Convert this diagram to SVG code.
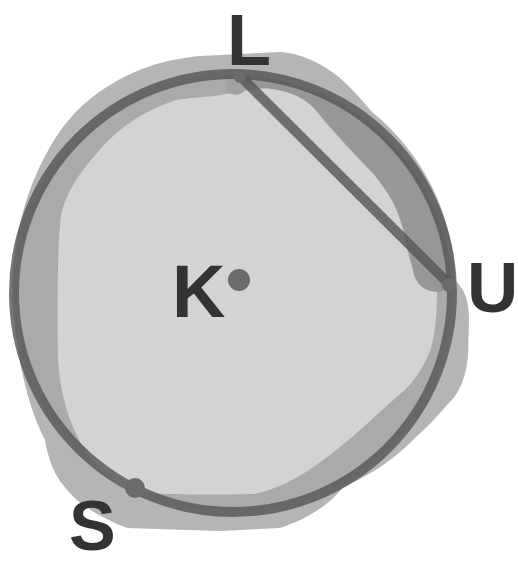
<svg xmlns="http://www.w3.org/2000/svg" width="518" height="565" viewBox="0 0 518 565">
  <style>
    .lbl { font-family: "Liberation Sans", Arial, sans-serif; font-weight: bold; font-size: 74px; fill: #333333; }
    .ink { stroke: #555555; stroke-opacity: 0.8; stroke-width: 10; fill: none; stroke-linecap: round; }
    .dot { fill: #6b6b6b; }
  </style>
  <rect width="518" height="565" fill="#ffffff"/>
  <g id="shading">
    <path fill="#b5b5b5" d="M110,85 C135,70 160,60 200,56 L280,52 C300,53 320,62 340,78 C355,92 362,100 372,112 A223 223 0 0 1 455,280 C465,290 469,300 469,320 L468,355 C466,380 458,395 447,405 C438,415 430,425 418,435 A223 223 0 0 1 343,487 C330,505 305,520 280,528 L220,531 L127,528 C105,520 80,505 70,493 C60,482 50,470 45,440 C30,410 18,370 12,300 C12,240 25,190 50,147 C65,120 85,100 110,85 Z"/>
    <circle cx="233" cy="293" r="219" fill="#aaaaaa"/>
    <path fill="#d3d3d3" d="M177,100 C150,108 120,125 97,153 C80,172 66,192 61,215 C57,250 57,320 58,360 C60,395 70,425 83,447 C95,465 110,480 125,490 C150,495 200,495 255,494 C290,486 320,465 360,430 C380,412 395,398 405,390 C420,375 430,355 433,340 C437,320 437,300 437,290 L420,285 C412,270 408,255 405,240 C400,215 393,197 375,175 C355,155 335,135 313,107 C300,95 290,90 270,88 C250,90 230,93 215,96 C200,97 190,98 177,100 Z"/>
    <path fill="#979797" d="M240,76 A219 219 0 0 1 452,285 L440,292 C425,292 415,285 413,270 C410,255 407,245 405,235 C400,210 390,195 372,172 C350,150 330,125 313,107 C300,95 285,90 265,88 C250,86 243,84 240,76 Z"/>
    <path fill="#a2a2a2" d="M226,80 C230,72 242,72 246,80 L246,88 C243,97 228,97 226,88 Z"/>
  </g>
  <g id="circle-k">
    <circle class="ink" cx="233" cy="293" r="219"/>
  </g>
  <g id="connectors">
    <line class="ink" x1="240" y1="76" x2="449" y2="284"/>
  </g>
  <g id="node-L">
    <circle class="dot" cx="240" cy="77" r="6"/>
    <text class="lbl" x="227" y="65" style="font-size:72px">L</text>
  </g>
  <g id="node-K">
    <circle class="dot" cx="239" cy="280" r="11"/>
    <text class="lbl" x="172" y="317">K</text>
  </g>
  <g id="node-U">
    <circle class="dot" cx="449" cy="285" r="7"/>
    <text class="lbl" x="467" y="312" style="font-size:71px">U</text>
  </g>
  <g id="node-S">
    <circle class="dot" cx="135" cy="488" r="10"/>
    <text class="lbl" x="69" y="550" style="font-size:70px">S</text>
  </g>
</svg>
